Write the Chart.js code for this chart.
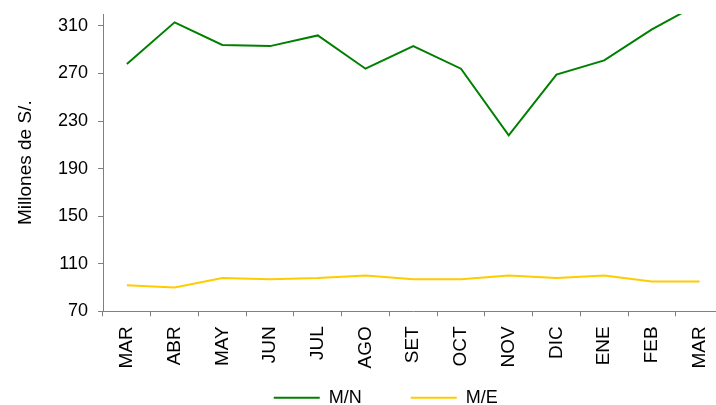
<!DOCTYPE html>
<html>

<head>
    <meta charset="utf-8">
    <title>Millones de S/.</title>
    <script src="https://cdn.jsdelivr.net/npm/chart.js"></script>
    <style>
        body {
            margin: 0;
            background: #fff;
        }

        .clip {
            width: 716px;
            height: 405px;
            overflow: hidden;
        }

        .wrap {
            width: 775px;
            height: 405px;
        }
    </style>
</head>

<body>
    <div class="clip">
        <div class="wrap">
            <canvas id="graph"></canvas>
        </div>
    </div>
    <script>
        // datos
        const months = ['MAR', 'ABR', 'MAY', 'JUN', 'JUL', 'AGO', 'SET', 'OCT', 'NOV', 'DIC', 'ENE', 'FEB', 'MAR'];
        const mn = [278, 313, 294, 293, 302, 274, 293, 274, 218, 269, 281, 307, 329];
        const me = [92, 90, 98, 97, 98, 100, 97, 97, 100, 98, 100, 95, 95];
        const yTicks = [70, 110, 150, 190, 230, 270, 310];

        const font = 'Liberation Sans, Arial, sans-serif';
        const axisColor = '#808080';

        // coloca la leyenda bajo las etiquetas del eje x
        const legendShift = {
            id: 'legendShift',
            afterLayout(chart) {
                const lg = chart.legend;
                lg.left += 24;
                lg.right += 24;
                lg.top = chart.chartArea.bottom + 28.4;
                lg.bottom = chart.height;
            }
        };

        const ctx = document.getElementById('graph').getContext('2d');
        new Chart(ctx, {
            type: 'line',
            data: {
                labels: months,
                datasets: [
                    { label: 'M/N', data: mn, borderColor: '#008000', backgroundColor: '#008000', borderWidth: 2, pointRadius: 0, tension: 0 },
                    { label: 'M/E', data: me, borderColor: '#FFCC00', backgroundColor: '#FFCC00', borderWidth: 2, pointRadius: 0, tension: 0 }
                ]
            },
            options: {
                responsive: true,
                maintainAspectRatio: false,
                animation: false,
                devicePixelRatio: 1,
                layout: { padding: { top: 14, right: 51.5, left: 0, bottom: 0 } },
                plugins: {
                    tooltip: { enabled: false },
                    legend: {
                        position: 'bottom',
                        maxHeight: 33.7,
                        labels: {
                            usePointStyle: true,
                            pointStyle: 'line',
                            pointStyleWidth: 46,
                            padding: 49,
                            color: '#000',
                            font: { family: font, size: 18 }
                        }
                    }
                },
                scales: {
                    x: {
                        type: 'category',
                        offset: true,
                        grid: { offset: true, drawOnChartArea: false, drawTicks: true, tickLength: 5, color: axisColor },
                        border: { display: true, color: axisColor, width: 1 },
                        ticks: { minRotation: 90, maxRotation: 90, padding: 10, color: '#000', font: { family: font, size: 19 } },
                        afterFit: s => { s.height = 60; }
                    },
                    y: {
                        min: 70,
                        max: 320,
                        afterBuildTicks: s => { s.ticks = yTicks.map(v => ({ value: v })); },
                        grid: { drawOnChartArea: false, drawTicks: true, tickLength: 5, color: axisColor },
                        border: { display: true, color: axisColor, width: 1 },
                        ticks: { padding: 10, color: '#000', font: { family: font, size: 18 } },
                        title: { display: true, text: 'Millones de S/.', color: '#000', padding: { top: 14, bottom: 0 }, font: { family: font, size: 19 } },
                        afterFit: s => { s.width = 103; s.paddingTop = 0; s.paddingBottom = 0; }
                    }
                }
            },
            plugins: [legendShift]
        });
    </script>
</body>

</html>
